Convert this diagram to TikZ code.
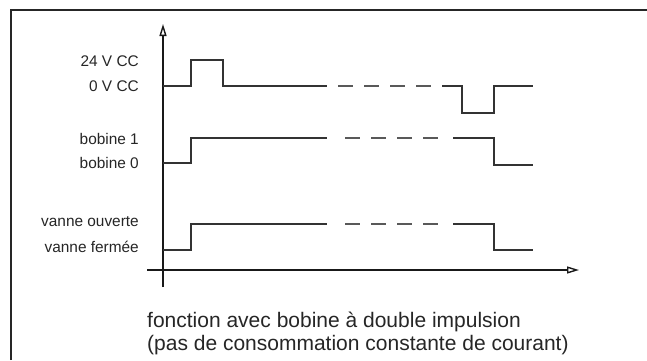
\documentclass[tikz,border=0pt]{standalone}
\usepackage{fontspec}
\setmainfont{Liberation Sans}
\usetikzlibrary{arrows.meta}
\begin{document}
\begin{tikzpicture}[x=1pt,y=-1pt,
  sig/.style={line width=1.1pt,draw=black!80},
  sigdash/.style={line width=1.1pt,draw=black!65,dash pattern=on 15pt off 11pt},
  axis/.style={line width=1.4pt,draw=black!90,-{Triangle[open,length=12pt,width=7pt]}},
  lbl/.style={anchor=east,inner sep=0pt,font=\fontsize{15.4}{18}\selectfont,text=black!85},
  captxt/.style={anchor=west,inner sep=0pt,font=\fontsize{21}{24}\selectfont,text=black!85}]
\useasboundingbox (0,0) rectangle (647,360);
\fill[white] (0,0) rectangle (647,360);
% frame
\draw[line width=2.4pt,black!85] (11,360) -- (11,10) -- (647,10);
% axes
\coordinate (yb) at (163,287);
\coordinate (yt) at (163,24);
\coordinate (xl) at (147,270);
\coordinate (xr) at (579,270);
\draw[axis] (yb) -- (yt);
\draw[axis] (xl) -- (xr);
% labels
\node[lbl] (l24) at (139,61) {24 V CC};
\node[lbl] (l0) at (139,86) {0 V CC};
\node[lbl] (b1) at (139,139) {bobine 1};
\node[lbl] (b0) at (139,163) {bobine 0};
\node[lbl] (vo) at (139,222) {vanne ouverte};
\node[lbl] (vf) at (139,247) {vanne fermée};
% signal 1
\draw[sig] (163,86) -- (191,86) -- (191,60) -- (223,60) -- (223,86) -- (327,86);
\draw[sigdash] (338,86) -- (432,86);
\draw[sig] (442,86) -- (462,86) -- (462,113) -- (494,113) -- (494,86) -- (533,86);
% signal 2
\draw[sig] (163,163) -- (191,163) -- (191,138) -- (327,138);
\draw[sigdash] (345,138) -- (439,138);
\draw[sig] (453,138) -- (494,138) -- (494,165) -- (533,165);
% signal 3
\draw[sig] (163,250) -- (191,250) -- (191,224) -- (327,224);
\draw[sigdash] (345,224) -- (439,224);
\draw[sig] (453,224) -- (494,224) -- (494,250) -- (533,250);
% caption
\node[captxt] (c1) at (147,322) {fonction avec bobine à double impulsion};
\node[captxt] (c2) at (147,345) {(pas de consommation constante de courant)};
\end{tikzpicture}
\end{document}
